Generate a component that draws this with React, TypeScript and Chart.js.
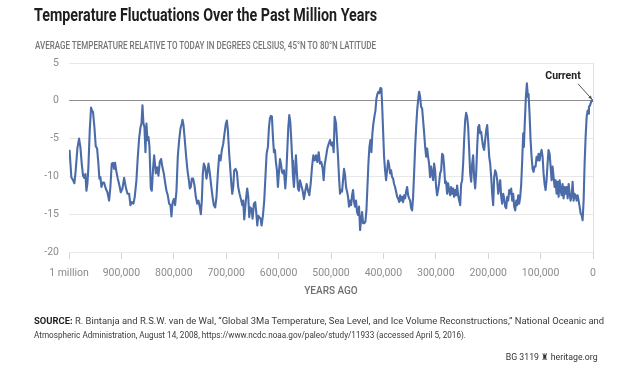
import React, { useEffect, useLayoutEffect, useRef } from 'react';
import { Chart, registerables } from 'chart.js';

Chart.register(...registerables);

// ---------- DATA ----------
// thousands of years before present (left = 1 million years ago)
const kyrAgo = [
  1000, 998.7, 995.5, 992.3, 989.7, 987.2, 984.0, 980.8, 978.3, 975.7,
  973.2, 970.6, 968.7, 966.8, 964.9, 963.0, 960.4, 957.9, 956.0, 954.1,
  951.5, 949.0, 946.4, 943.9, 942.0, 940.1, 938.1, 935.6, 933.1, 929.9,
  926.7, 923.5, 921.0, 918.4, 915.9, 914.0, 912.0, 909.5, 906.9, 904.4,
  901.2, 898.0, 894.8, 891.7, 888.5, 885.3, 882.7, 880.2, 877.0, 874.5,
  871.3, 868.7, 866.2, 863.6, 861.7, 859.8, 857.9, 856.0, 854.1, 852.2,
  850.2, 848.3, 846.4, 843.9, 842.0, 839.4, 837.5, 834.3, 831.8, 829.3,
  826.8, 824.2, 821.7, 819.1, 816.6, 814.0, 811.5, 808.9, 806.4, 804.5,
  802.6, 800.0, 797.5, 794.9, 792.4, 789.8, 787.3, 784.7, 783.4, 781.5,
  779.0, 776.4, 773.9, 771.3, 769.4, 767.5, 765.6, 763.1, 760.5, 758.0,
  755.4, 752.9, 750.3, 748.4, 746.5, 744.6, 742.7, 740.1, 737.6, 735.7,
  733.8, 731.2, 728.7, 726.1, 723.6, 721.0, 718.5, 715.9, 713.4, 710.8,
  708.3, 705.7, 703.2, 700.6, 698.7, 696.8, 694.3, 692.4, 690.4, 688.5,
  686.6, 684.7, 682.2, 679.6, 677.1, 674.5, 672.0, 669.4, 667.5, 665.6,
  663.7, 661.8, 659.9, 657.9, 656.0, 654.1, 651.6, 649.7, 647.1, 644.6,
  642.7, 640.7, 638.8, 636.9, 634.4, 632.5, 629.9, 627.4, 624.8, 622.9,
  620.4, 618.4, 616.5, 614.6, 612.7, 610.8, 608.9, 607.0, 605.1, 603.2,
  601.3, 599.3, 597.4, 595.5, 593.6, 591.7, 589.8, 587.2, 585.3, 583.4,
  581.5, 579.6, 577.7, 575.8, 573.9, 572.6, 570.7, 568.8, 566.9, 565.0,
  563.0, 561.1, 559.2, 556.7, 554.1, 551.6, 549.0, 546.5, 543.9, 541.4,
  538.8, 536.3, 533.7, 531.2, 528.6, 526.1, 523.5, 521.0, 518.5, 515.9,
  514.0, 512.1, 509.5, 507.0, 504.4, 501.9, 499.3, 496.8, 494.9, 493.0,
  490.4, 488.5, 486.6, 484.7, 482.8, 480.8, 478.9, 477.0, 475.1, 473.2,
  471.3, 469.4, 467.5, 465.6, 463.6, 461.7, 459.8, 457.9, 456.0, 454.1,
  452.2, 450.3, 448.4, 446.5, 444.5, 442.6, 440.7, 438.8, 436.9, 434.4,
  432.4, 430.5, 428.6, 426.7, 424.8, 422.9, 421.0, 419.1, 417.2, 415.2,
  413.3, 411.4, 409.5, 407.6, 405.7, 403.8, 402.5, 400.6, 398.7, 396.8,
  394.9, 392.9, 391.0, 389.1, 387.2, 385.3, 383.4, 381.5, 379.6, 377.7,
  375.8, 373.8, 371.9, 370.0, 368.1, 366.2, 364.3, 362.4, 360.5, 358.6,
  356.6, 354.7, 352.8, 350.9, 349.0, 347.1, 345.2, 343.3, 341.4, 339.4,
  337.5, 335.6, 333.7, 331.8, 329.9, 328.0, 326.1, 324.2, 322.2, 320.3,
  318.4, 316.5, 314.7, 312.8, 310.9, 309.0, 307.0, 305.1, 303.2, 301.3,
  299.4, 297.5, 295.6, 293.7, 291.8, 289.8, 287.9, 286.0, 284.1, 282.2,
  280.3, 278.4, 276.5, 274.6, 272.6, 270.7, 268.8, 266.9, 265.0, 263.1,
  261.2, 259.3, 257.4, 255.4, 253.5, 251.6, 249.7, 247.8, 245.9, 244.0,
  242.1, 240.2, 238.2, 236.3, 234.4, 232.5, 230.6, 228.7, 226.8, 224.9,
  223.0, 221.0, 219.1, 217.2, 215.3, 213.4, 211.5, 209.6, 207.7, 205.8,
  203.8, 201.9, 200.0, 198.1, 196.2, 194.3, 192.4, 190.5, 188.6, 186.7,
  184.7, 182.8, 180.9, 179.0, 177.1, 175.2, 173.3, 171.4, 169.5, 167.5,
  165.6, 163.7, 161.8, 159.9, 158.0, 156.1, 154.2, 152.3, 150.4, 148.4,
  146.5, 144.6, 142.7, 140.8, 138.9, 137.0, 135.1, 133.2, 131.9, 130.0,
  128.1, 126.2, 124.2, 123.0, 121.1, 119.1, 117.2, 115.3, 113.4, 111.5,
  109.6, 107.7, 105.8, 103.9, 101.9, 100.0, 98.1, 96.2, 94.3, 92.4,
  90.5, 88.6, 86.7, 84.8, 82.8, 80.9, 79.0, 77.1, 75.2, 73.3,
  71.4, 69.5, 67.6, 65.6, 63.7, 61.8, 59.9, 58.0, 56.1, 54.2,
  52.3, 50.4, 48.4, 46.5, 44.6, 42.7, 40.8, 38.9, 37.0, 35.1,
  33.2, 31.3, 29.3, 27.4, 25.5, 23.6, 21.7, 19.8, 17.9, 16.0,
  14.1, 12.1, 10.2, 8.9, 7.7, 5.8, 3.9, 1.9, 0,
];

// degrees Celsius relative to today
const temperature = [
  -6.6, -6.8, -10.1, -10.5, -10.9, -9.2, -6.3, -5.0, -6.1, -8.3,
  -9.9, -10.2, -9.7, -11.9, -11.0, -8.8, -3.9, -0.9, -1.3, -1.5,
  -3.5, -6.0, -6.3, -8.3, -10.3, -10.1, -11.4, -10.8, -10.8, -11.6,
  -12.1, -13.2, -11.4, -8.3, -8.2, -9.0, -8.2, -9.4, -10.3, -11.0,
  -12.1, -11.6, -10.2, -11.4, -12.3, -12.3, -13.8, -13.4, -13.6, -12.7,
  -10.5, -7.4, -5.0, -3.5, -3.0, -0.6, -3.0, -3.5, -6.8, -3.0,
  -5.2, -4.8, -6.1, -11.6, -11.9, -8.8, -7.2, -9.6, -8.8, -9.9,
  -8.1, -7.7, -8.8, -9.6, -10.8, -11.9, -12.5, -13.6, -13.8, -15.3,
  -13.6, -13.0, -13.8, -11.9, -7.4, -5.2, -3.7, -3.0, -2.5, -3.2,
  -5.2, -7.4, -9.2, -10.5, -11.6, -11.4, -10.3, -10.3, -11.2, -12.7,
  -13.6, -13.2, -14.1, -15.0, -13.2, -9.6, -8.3, -8.8, -10.3, -9.4,
  -8.3, -9.6, -11.2, -12.7, -13.8, -14.1, -12.7, -9.6, -7.2, -7.9,
  -6.5, -5.7, -4.3, -3.0, -2.6, -3.9, -7.0, -8.8, -10.8, -12.3,
  -11.4, -9.2, -9.0, -9.4, -11.4, -12.3, -13.0, -13.8, -13.2, -15.7,
  -14.1, -12.7, -11.6, -12.7, -15.4, -14.1, -14.3, -15.6, -13.6, -13.4,
  -14.7, -16.5, -15.2, -15.4, -15.6, -16.5, -15.2, -13.2, -9.6, -7.0,
  -6.1, -3.5, -2.3, -2.0, -2.1, -4.8, -6.8, -6.5, -8.1, -9.2,
  -11.4, -9.4, -7.7, -8.3, -9.4, -9.6, -9.2, -11.6, -9.6, -6.5,
  -3.5, -1.9, -2.8, -5.2, -7.9, -9.9, -11.4, -9.2, -7.2, -9.6,
  -11.6, -11.9, -10.5, -11.2, -11.9, -13.0, -11.9, -11.0, -11.9, -12.5,
  -11.0, -8.8, -7.2, -7.9, -7.2, -8.1, -6.8, -8.3, -8.1, -9.0,
  -10.5, -8.5, -7.4, -6.3, -5.7, -5.2, -5.9, -5.5, -6.8, -2.1,
  -3.0, -5.2, -7.4, -10.1, -12.3, -11.8, -12.0, -10.5, -9.0, -9.8,
  -11.4, -12.0, -12.7, -14.0, -13.2, -13.8, -12.5, -11.8, -13.4, -14.0,
  -13.2, -14.7, -15.1, -14.0, -17.1, -15.8, -14.7, -16.2, -16.2, -16.0,
  -14.5, -11.4, -8.3, -6.1, -5.2, -6.8, -4.3, -3.0, -2.1, -1.3,
  0.3, 0.9, 1.2, 1.0, 1.7, 1.6, -0.4, -3.9, -7.4, -9.2,
  -10.5, -9.2, -7.9, -8.5, -9.6, -9.2, -10.1, -10.3, -11.0, -11.4,
  -12.0, -12.7, -12.9, -13.4, -12.5, -13.2, -12.7, -13.4, -12.5, -12.9,
  -12.0, -11.4, -12.5, -12.9, -13.2, -14.2, -14.5, -12.7, -9.6, -6.1,
  -3.5, -1.3, 0.1, 1.2, 0.5, -0.8, -1.0, -2.6, -4.3, -6.1,
  -7.4, -6.3, -7.4, -8.3, -10.1, -8.7, -9.6, -10.5, -8.3, -9.2,
  -11.4, -12.5, -11.8, -10.9, -9.6, -9.2, -7.0, -7.2, -8.7, -10.9,
  -10.7, -12.3, -10.9, -11.8, -12.5, -11.4, -12.3, -11.6, -12.7, -11.8,
  -12.5, -11.2, -12.5, -13.2, -13.8, -11.0, -10.5, -8.3, -5.2, -2.6,
  -1.6, -2.1, -3.5, -6.5, -9.6, -10.7, -8.3, -7.2, -10.1, -11.6,
  -9.6, -6.1, -3.5, -3.2, -4.3, -4.1, -5.2, -6.1, -6.5, -5.2,
  -3.9, -3.2, -5.2, -7.4, -8.3, -10.1, -12.3, -13.8, -10.1, -9.2,
  -9.6, -10.5, -12.3, -11.4, -10.5, -12.7, -13.6, -12.3, -12.9, -14.0,
  -14.2, -12.7, -13.2, -11.8, -12.3, -11.6, -13.2, -12.3, -14.0, -14.5,
  -13.2, -13.8, -12.5, -13.6, -12.7, -11.0, -7.9, -4.3, -6.1, -2.6,
  0.5, 2.3, 0.5, 0.9, -1.7, -5.2, -7.4, -9.0, -9.4, -8.7,
  -8.7, -7.4, -7.9, -7.0, -7.9, -7.0, -6.5, -7.4, -9.6, -11.0,
  -11.8, -10.5, -8.3, -6.5, -7.0, -8.7, -10.5, -8.7, -10.1, -11.4,
  -10.5, -12.3, -10.7, -12.7, -10.5, -11.8, -12.5, -11.0, -12.9, -11.4,
  -12.3, -11.4, -12.9, -11.0, -12.3, -13.2, -12.5, -10.7, -13.2, -12.3,
  -12.5, -13.2, -12.5, -13.2, -14.0, -14.9, -15.1, -15.8, -13.2, -8.3,
  -4.8, -2.1, -1.3, -1.7, -0.8, -0.6, -0.2, 0.1, 0.0,
];

const xTickValues = [1000000, 900000, 800000, 700000, 600000, 500000, 400000, 300000, 200000, 100000, 0];
const xTickLabels = ['1 million', '900,000', '800,000', '700,000', '600,000', '500,000', '400,000', '300,000', '200,000', '100,000', '0'];
const yTickValues = [5, 0, -5, -10, -15, -20];

const titleText = 'Temperature Fluctuations Over the Past Million Years';
const subtitleText = 'AVERAGE TEMPERATURE RELATIVE TO TODAY IN DEGREES CELSIUS, 45°N TO 80°N LATITUDE';
const xAxisTitle = 'YEARS AGO';
const currentLabel = 'Current';
const sourceLine1 = 'R. Bintanja and R.S.W. van de Wal, “Global 3Ma Temperature, Sea Level, and Ice Volume Reconstructions,” National Oceanic and';
const sourceLine2 = 'Atmospheric Administration, August 14, 2008, https://www.ncdc.noaa.gov/paleo/study/11933 (accessed April 5, 2016).';
const footerText = 'BG 3119';
const footerSite = 'heritage.org';

const FONT = 'Roboto, "Noto Sans", sans-serif';

function FitText(props: { width: number; origin?: string; style: React.CSSProperties; children: React.ReactNode }) {
  const ref = useRef<HTMLDivElement>(null);
  useLayoutEffect(() => {
    const el = ref.current;
    if (!el) return;
    el.style.transform = 'none';
    const w = el.getBoundingClientRect().width;
    if (w > 0) el.style.transform = `scaleX(${props.width / w})`;
  }, [props.width]);
  return (
    <div
      ref={ref}
      style={{
        position: 'absolute',
        whiteSpace: 'nowrap',
        transformOrigin: props.origin || 'left top',
        fontFamily: FONT,
        ...props.style,
      }}
    >
      {props.children}
    </div>
  );
}

const currentPlugin = {
  id: 'currentPlugin',
  afterDatasetsDraw(chart: any) {
    const { ctx, scales } = chart;
    const px = scales.x.getPixelForValue(kyrAgo[kyrAgo.length - 1] * 1000);
    const py = scales.y.getPixelForValue(temperature[temperature.length - 1]);
    ctx.save();
    ctx.strokeStyle = '#555';
    ctx.fillStyle = '#555';
    ctx.lineWidth = 1;
    const sx = px - 15;
    const sy = py - 17;
    const ex = px - 1;
    const ey = py - 1.5;
    ctx.beginPath();
    ctx.moveTo(sx, sy);
    ctx.lineTo(ex, ey);
    ctx.stroke();
    const ang = Math.atan2(ey - sy, ex - sx);
    const hl = 4;
    ctx.beginPath();
    ctx.moveTo(ex, ey);
    ctx.lineTo(ex - hl * Math.cos(ang - 0.45), ey - hl * Math.sin(ang - 0.45));
    ctx.lineTo(ex - hl * Math.cos(ang + 0.45), ey - hl * Math.sin(ang + 0.45));
    ctx.closePath();
    ctx.fill();
    ctx.font = `bold 10.5px ${FONT}`;
    ctx.fillStyle = '#222';
    ctx.textAlign = 'center';
    ctx.textBaseline = 'middle';
    ctx.fillText(currentLabel, px - 30, py - 24);
    ctx.restore();
  },
};

function TemperatureChart() {
  const canvasRef = useRef<HTMLCanvasElement>(null);
  useEffect(() => {
    const canvas = canvasRef.current;
    if (!canvas) return;
    const points = kyrAgo.map((k, i) => ({ x: k * 1000, y: temperature[i] }));
    const chart = new Chart(canvas, {
      type: 'line',
      data: {
        datasets: [
          {
            data: points,
            borderColor: '#4b6ca9',
            borderWidth: 2.1,
            pointRadius: 0,
            tension: 0,
            fill: false,
            borderJoinStyle: 'round',
            borderCapStyle: 'round',
          } as any,
        ],
      },
      options: {
        animation: false,
        responsive: false,
        maintainAspectRatio: false,
        parsing: false,
        normalized: true,
        layout: { padding: { left: 10, top: 63, right: 47, bottom: 71 } },
        plugins: { legend: { display: false }, tooltip: { enabled: false } },
        scales: {
          x: {
            type: 'linear',
            reverse: true,
            min: 0,
            max: 1000000,
            afterBuildTicks: (scale: any) => {
              scale.ticks = xTickValues.map((v) => ({ value: v }));
            },
            afterFit: (scale: any) => {
              scale.height = 45;
            },
            ticks: {
              autoSkip: false,
              maxRotation: 0,
              minRotation: 0,
              color: '#8c8c8c',
              padding: 8,
              font: { family: FONT, size: 10.5 },
              callback: (v: any) => xTickLabels[xTickValues.indexOf(Number(v))] ?? '',
            },
            grid: {
              drawOnChartArea: true,
              color: (c: any) => (c.tick && c.tick.value === 0 ? '#e2e2e2' : 'rgba(0,0,0,0)'),
              tickColor: '#d4d4d4',
              tickLength: 7,
              lineWidth: 1,
            },
            border: { display: false },
            title: {
              display: true,
              text: xAxisTitle,
              color: '#6e6e6e',
              font: { family: FONT, size: 10, weight: '500' as any },
              padding: { top: 0, bottom: 0 },
            },
          },
          y: {
            min: -20,
            max: 5,
            afterBuildTicks: (scale: any) => {
              scale.ticks = yTickValues.map((v) => ({ value: v }));
            },
            afterFit: (scale: any) => {
              scale.width = 59;
            },
            ticks: {
              color: '#8c8c8c',
              padding: 10,
              font: { family: FONT, size: 10.5 },
            },
            grid: {
              drawTicks: false,
              color: (c: any) => (c.tick && c.tick.value === 0 ? '#8f8f8f' : '#e8e8e8'),
              lineWidth: 1,
            },
            border: { display: false },
          },
        },
      } as any,
      plugins: [currentPlugin],
    });
    return () => chart.destroy();
  }, []);
  return <canvas ref={canvasRef} width={640} height={368} style={{ position: 'absolute', left: 0, top: 0, width: 640, height: 368 }} />;
}

export default function App() {
  return (
    <div style={{ position: 'fixed', left: 0, top: 0, width: 640, height: 368, background: '#fff', overflow: 'hidden' }}>
      <TemperatureChart />
      <FitText width={343} style={{ left: 34, top: 5, fontSize: 18, fontWeight: 700, color: '#1e1e1e', lineHeight: '20px' }}>
        {titleText}
      </FitText>
      <FitText width={341} style={{ left: 35, top: 40, fontSize: 11, fontWeight: 500, color: '#747474', lineHeight: '12px' }}>
        {subtitleText}
      </FitText>
      <FitText width={570} style={{ left: 34, top: 315, fontSize: 9.5, color: '#3a3a3a', lineHeight: '12px' }}>
        <b style={{ color: '#1e1e1e' }}>SOURCE:</b> {sourceLine1}
      </FitText>
      <FitText width={432} style={{ left: 34, top: 329, fontSize: 9.5, color: '#3a3a3a', lineHeight: '12px' }}>
        {sourceLine2}
      </FitText>
      <FitText width={92} origin="right top" style={{ right: 42, top: 351, fontSize: 9.5, color: '#333', lineHeight: '12px' }}>
        {footerText} <span style={{ fontSize: 8.5 }}>♜</span> {footerSite}
      </FitText>
    </div>
  );
}
